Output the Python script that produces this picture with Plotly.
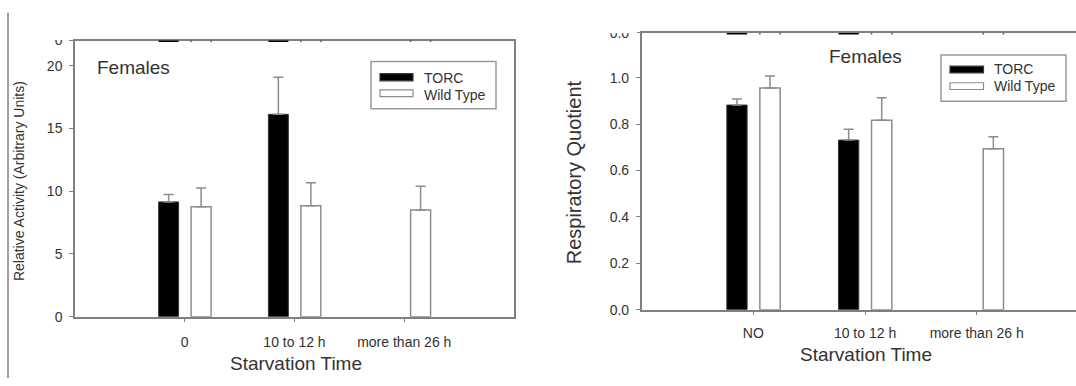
import plotly.graph_objects as go

# ---------------- data ----------------
categories_left = ["0", "10 to 12 h", "more than 26 h"]
categories_right = ["NO", "10 to 12 h", "more than 26 h"]
series_names = ["TORC", "Wild Type"]

activity_torc = [9.15, 16.13, None]
activity_torc_err = [0.58, 2.95, None]
activity_wt = [8.77, 8.84, 8.51]
activity_wt_err = [1.49, 1.84, 1.88]

rq_torc = [0.882, 0.731, None]
rq_torc_err = [0.026, 0.047, None]
rq_wt = [0.956, 0.816, 0.694]
rq_wt_err = [0.051, 0.097, 0.051]

left_yticks = [0, 5, 10, 15, 20]
right_yticks = [0.0, 0.2, 0.4, 0.6, 0.8, 1.0]

# bars of the panel above (only their bases are visible at the top edge)
upper_torc_present = [True, True, False]
upper_wt_present = [True, True, True]

# ---------------- style ----------------
W, H = 1076, 386
FONT = "Liberation Sans, Arial, sans-serif"
TXT = "#333333"
AX = "#7f7f7f"
BAR_W = 0.182
OFF_T = -0.238
OFF_W = 0.058


def px(x):
    return x / W


def py(y):
    return 1 - y / H


left_ymax = 22.01
right_ymax = 1.193
right_xmax = 2.889

fig = go.Figure()


def add_bars(xa, ya, torc, torc_err, wt, wt_err):
    idx = list(range(len(torc)))
    fig.add_trace(go.Bar(
        x=idx, y=torc, width=BAR_W, offset=OFF_T, name=series_names[0],
        marker=dict(color="#000000", line=dict(color="#3a3a3a", width=1)),
        error_y=dict(type="data", array=torc_err, symmetric=False,
                     arrayminus=[0] * len(torc), color="#8c8c8c",
                     thickness=1.5, width=5),
        xaxis=xa, yaxis=ya, showlegend=False))
    fig.add_trace(go.Bar(
        x=idx, y=wt, width=BAR_W, offset=OFF_W, name=series_names[1],
        marker=dict(color="#ffffff", line=dict(color="#8c8c8c", width=1.5)),
        error_y=dict(type="data", array=wt_err, symmetric=False,
                     arrayminus=[0] * len(wt), color="#8c8c8c",
                     thickness=1.5, width=5),
        xaxis=xa, yaxis=ya, showlegend=False))


add_bars("x", "y", activity_torc, activity_torc_err, activity_wt, activity_wt_err)
add_bars("x2", "y2", rq_torc, rq_torc_err, rq_wt, rq_wt_err)

common_axis = dict(showline=True, linecolor=AX, linewidth=1.5, ticks="outside",
                   ticklen=4, tickwidth=1.2, tickcolor=AX, showgrid=False,
                   zeroline=False,
                   tickfont=dict(family=FONT, size=14, color=TXT))

fig.update_layout(
    width=W, height=H, margin=dict(l=0, r=0, t=0, b=0),
    paper_bgcolor="white", plot_bgcolor="white", barmode="overlay",
    showlegend=False,
    xaxis=dict(domain=[px(75), px(514)], range=[-1, 3], tickvals=[0, 1, 2],
               ticktext=categories_left, mirror=True, anchor="y",
               ticklabelstandoff=8, **common_axis),
    yaxis=dict(domain=[py(322), py(34)], range=[0, left_ymax],
               tickvals=left_yticks + [left_ymax],
               ticktext=[str(v) for v in left_yticks] + ["0"],
               mirror=True, anchor="x", ticklabelstandoff=4, **common_axis),
    xaxis2=dict(domain=[px(641.7), 1], range=[-1, right_xmax], tickvals=[0, 1, 2],
                ticktext=categories_right, mirror=True, anchor="y2",
                ticklabelstandoff=6, **common_axis),
    yaxis2=dict(domain=[py(314.7), py(26)], range=[0, right_ymax],
                tickvals=right_yticks + [right_ymax],
                ticktext=[f"{v:.1f}" for v in right_yticks] + ["0.0"],
                mirror=False, anchor="x2", ticklabelstandoff=4, **common_axis),
)

shapes = []
# traces of the panel above along the top edge
for xr, yr, ymax in (("x", "y", left_ymax), ("x2", "y2", right_ymax)):
    for i, present in enumerate(upper_torc_present):
        if present:
            shapes.append(dict(type="line", xref=xr, yref=yr,
                               x0=i + OFF_T, x1=i + OFF_T + BAR_W, y0=ymax, y1=ymax,
                               line=dict(color="#000000", width=3), layer="above"))
    for i, present in enumerate(upper_wt_present):
        if present:
            for edge in (i + OFF_W, i + OFF_W + BAR_W):
                shapes.append(dict(type="line", xref=xr, yref=yr, ysizemode="pixel",
                                   yanchor=ymax, y0=-1.5, y1=1.5, x0=edge, x1=edge,
                                   line=dict(color="#555555", width=1.5), layer="above"))

# white masks cutting the tick labels of the panel above
shapes.append(dict(type="rect", xref="paper", yref="paper", x0=px(30), x1=px(70),
                   y0=py(33.4), y1=1, fillcolor="white", line=dict(width=0), layer="above"))
shapes.append(dict(type="rect", xref="paper", yref="paper", x0=px(590), x1=px(637),
                   y0=py(26.4), y1=1, fillcolor="white", line=dict(width=0), layer="above"))

# left page border line
shapes.append(dict(type="line", xref="paper", yref="paper", x0=px(8), x1=px(8),
                   y0=py(386), y1=py(5), line=dict(color="#808080", width=1.5)))

annotations = []


def legend(box, sw_x, txt_x, rows):
    x0, x1, y0, y1 = box
    shapes.append(dict(type="rect", xref="paper", yref="paper", x0=px(x0), x1=px(x1),
                       y0=py(y1), y1=py(y0), line=dict(color="#9a9a9a", width=1.5),
                       fillcolor="white", layer="above"))
    for (sy0, sy1, ty), name, fill, edge in zip(rows, series_names,
                                                ["#000000", "#ffffff"],
                                                ["#3a3a3a", "#8c8c8c"]):
        shapes.append(dict(type="rect", xref="paper", yref="paper",
                           x0=px(sw_x[0]), x1=px(sw_x[1]), y0=py(sy1), y1=py(sy0),
                           fillcolor=fill, line=dict(color=edge, width=1.2), layer="above"))
        annotations.append(dict(xref="paper", yref="paper", x=px(txt_x), y=py(ty),
                                xanchor="left", yanchor="middle", text=name, showarrow=False,
                                font=dict(family=FONT, size=14, color=TXT)))


legend((371, 496, 55.7, 105), (380, 413), 422, [(68.5, 76, 72.7), (85.5, 92.5, 90.7)])
legend((941, 1066, 49, 97.3), (950, 983.5), 992, [(60.7, 67.7, 63.3), (78, 85, 81)])


def text(x, y, s, size, xanchor="center", angle=0):
    annotations.append(dict(xref="paper", yref="paper", x=px(x), y=py(y), text=s,
                            showarrow=False, xanchor=xanchor, yanchor="middle",
                            textangle=angle, font=dict(family=FONT, size=size, color=TXT)))


text(95, 61.7, "Females", 19, xanchor="left")
text(865.7, 51, "Females", 19)
text(296, 370.7, "Starvation Time", 19)
text(865.7, 361.7, "Starvation Time", 19)
text(19.6, 181, "Relative Activity (Arbitrary Units)", 14, angle=-90)
text(574.4, 171, "Respiratory Quotient", 20, angle=-90)

fig.update_layout(shapes=shapes, annotations=annotations)
fig.write_html("out.html")
